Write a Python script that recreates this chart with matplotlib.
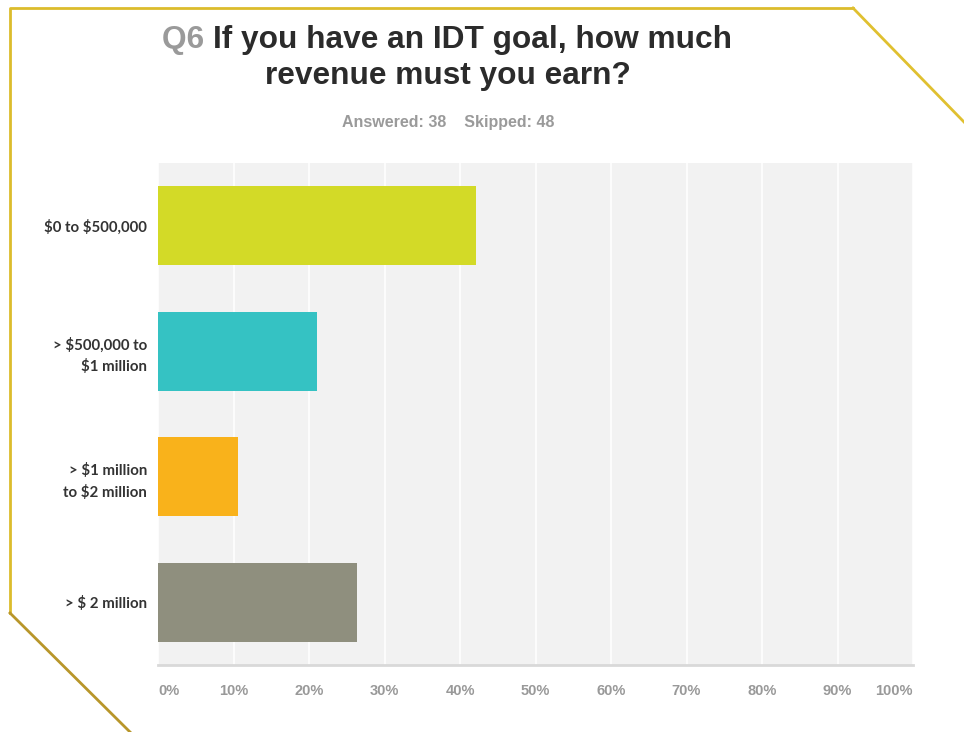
import matplotlib
matplotlib.use("Agg")
import matplotlib.pyplot as plt
from matplotlib.lines import Line2D
from matplotlib.ticker import FuncFormatter

categories = [r"\$0 to \$500,000", "> \\$500,000 to\n\\$1 million",
              "> \\$1 million\nto \\$2 million", r"> \$ 2 million"]
shares = [42.11, 21.05, 10.53, 26.32]
bar_colors = ["#d3da27", "#35c2c3", "#f9b21b", "#8f8f7e"]
x_ticks = [0, 10, 20, 30, 40, 50, 60, 70, 80, 90, 100]
answered = 38
skipped = 48

fig = plt.figure(figsize=(9.64, 7.32), dpi=100)
fig.patch.set_facecolor("white")

ax = fig.add_axes([158 / 964, 67 / 732, 755 / 964, 502 / 732])
ax.set_facecolor("#f2f2f2")
y = range(len(categories))
ax.barh(y, shares, height=0.63, color=bar_colors, zorder=3)
ax.set_xlim(0, 100)
ax.set_ylim(3.5, -0.5)
ax.set_xticks(x_ticks)
ax.xaxis.set_major_formatter(FuncFormatter(lambda v, _: f"{v:.0f}%"))
ax.set_yticks(list(y))
ax.set_yticklabels(categories, fontsize=10.8, fontweight="bold", color="#333333",
                   family="Lato", linespacing=1.55)
ax.tick_params(axis="both", length=0)
ax.tick_params(axis="x", pad=14)
ax.tick_params(axis="y", pad=8)
ax.grid(axis="x", color="white", linewidth=1.2, zorder=1)
for side in ["top", "right", "left"]:
    ax.spines[side].set_visible(False)
ax.spines["bottom"].set_color("#d9d9d9")
ax.spines["bottom"].set_linewidth(2)

xlabels = ax.get_xticklabels()
for lbl in xlabels:
    lbl.set_fontsize(10.5)
    lbl.set_fontweight("bold")
    lbl.set_color("#999999")
    lbl.set_family("Liberation Sans")
# end labels stay inside the plot width
xlabels[0].set_horizontalalignment("left")
xlabels[-1].set_horizontalalignment("right")

# title: gray question number followed by the question text
fig.canvas.draw()
renderer = fig.canvas.get_renderer()
title_kw = dict(fontsize=22.8, fontweight="bold", family="Liberation Sans", va="center")
q = fig.text(0, 1 - 40 / 732, "Q6 ", color="#9a9a9a", **title_kw)
rest = fig.text(0, 1 - 40 / 732, "If you have an IDT goal, how much", color="#2b2b2b", **title_kw)
wq = q.get_window_extent(renderer).width
wr = rest.get_window_extent(renderer).width
x0 = 447 - (wq + wr) / 2
q.set_x(x0 / 964)
rest.set_x((x0 + wq) / 964)
fig.text(448 / 964, 1 - 76 / 732, "revenue must you earn?", color="#2b2b2b",
         ha="center", **title_kw)
fig.text(448 / 964, 1 - 123 / 732, f"Answered: {answered}    Skipped: {skipped}",
         color="#9a9a9a", fontsize=11.5, fontweight="bold", family="Liberation Sans",
         ha="center", va="center")

# gold frame with clipped corners
fig.add_artist(Line2D([853 / 964, 10 / 964, 10 / 964], [1 - 8 / 732, 1 - 8 / 732, 1 - 613 / 732],
                      transform=fig.transFigure, color="#dcbc2c", linewidth=2))
fig.add_artist(Line2D([10 / 964, 130 / 964], [1 - 613 / 732, 0],
                      transform=fig.transFigure, color="#b8962a", linewidth=2))
fig.add_artist(Line2D([853 / 964, 964 / 964], [1 - 8 / 732, 1 - 122 / 732],
                      transform=fig.transFigure, color="#e0c030", linewidth=2))

fig.savefig("out.png", dpi=100)
